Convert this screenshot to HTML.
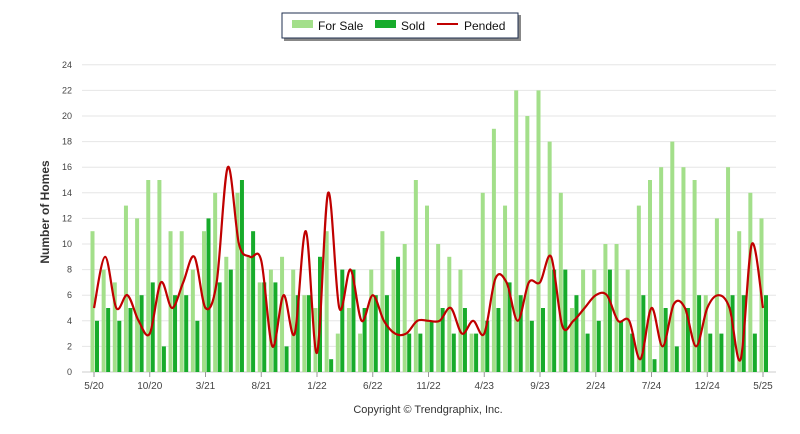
<!DOCTYPE html>
<html><head><meta charset="utf-8"><style>
body{margin:0;background:#fff;font-family:"Liberation Sans",sans-serif;}
svg{display:block}
</style></head><body>
<svg id="chart" width="800" height="434">
<rect x="284" y="15" width="237" height="26" fill="#888"/>
<rect x="282" y="13" width="236" height="25" fill="#fff" stroke="#1f2f4f" stroke-width="1"/>
<rect x="292" y="20" width="21" height="8" fill="#a3df8a"/>
<text x="318" y="30" font-size="12" fill="#111">For Sale</text>
<rect x="375" y="20" width="21" height="8" fill="#17ab2b"/>
<text x="401" y="30" font-size="12" fill="#111">Sold</text>
<line x1="437" y1="24" x2="458" y2="24" stroke="#c00000" stroke-width="2"/>
<text x="464" y="30" font-size="12" fill="#111">Pended</text>
<text transform="translate(49,212) rotate(-90)" text-anchor="middle" font-size="12" font-weight="bold" fill="#333">Number of Homes</text>
<text x="428" y="413" text-anchor="middle" font-size="11" fill="#333">Copyright © Trendgraphix, Inc.</text>
<g id="grid"></g><g id="bars"></g><g id="line"></g><g id="xt"></g>
</svg>
<script>
const xLabels=["5/20","10/20","3/21","8/21","1/22","6/22","11/22","4/23","9/23","2/24","7/24","12/24","5/25"];
const yTicks=[0,2,4,6,8,10,12,14,16,18,20,22,24];
const forSale=[11,8,7,13,12,15,15,11,11,8,11,14,9,14,9,7,8,9,8,6,5,11,3,5,3,8,11,8,10,15,13,10,9,8,3,14,19,13,22,20,22,18,14,5,8,8,10,10,8,13,15,16,18,16,15,6,12,16,11,14,12];
const sold=[4,5,4,5,6,7,2,6,6,4,12,7,8,15,11,7,7,2,6,6,9,1,8,8,5,6,6,9,3,3,4,5,3,5,3,4,5,7,6,4,5,8,8,6,3,4,8,4,3,6,1,5,2,5,6,3,3,6,6,3,6];
const pended=[5,9,5,6,4,3,7,5,7,9,5,7,16,10,9,8.7,2,6,3,11,1.5,14,5,8,4,6,4,3,3,4,4,4,5,3,4,3,7.3,7,4,7,7,9,3.6,4,5,6,6,4,4,1,5,2,5.3,5,2,5,6,5,1,10,5];
const NS="http://www.w3.org/2000/svg";
const svg=document.getElementById('chart');
const x0=94,dx=11.15,y0=372,yS=12.8;
const xS=i=>x0+i*dx, yV=v=>y0-v*yS;
function mk(tag,attrs,parent){const e=document.createElementNS(NS,tag);for(const k in attrs)e.setAttribute(k,attrs[k]);document.getElementById(parent).appendChild(e);return e;}
yTicks.forEach(t=>{
  const l=mk('line',{x1:82,x2:776,y1:yV(t),y2:yV(t),stroke:t===0?'#ccc':'#e6e6e6','stroke-width':1},'grid');
  
  
  const tx=mk('text',{x:72,y:yV(t)+3,'text-anchor':'end','font-size':9,fill:'#444'},'grid');
  tx.textContent=t;
  
  
});
xLabels.forEach((s,k)=>{
  const i=k*5;
  const l=mk('line',{x1:xS(i),x2:xS(i),y1:372,y2:377,stroke:'#999'},'xt');
  
  
  const tx=mk('text',{x:xS(i),y:389,'text-anchor':'middle','font-size':10,fill:'#444'},'xt');
  tx.textContent=s;
  
  
});
forSale.forEach((v,i)=>{
  const r=mk('rect',{x:xS(i)-3.5,y:yV(v),width:4,height:v*yS,fill:'#a3df8a'},'bars');
  
  
});
sold.forEach((v,i)=>{
  const r=mk('rect',{x:xS(i)+1,y:yV(v),width:4,height:v*yS,fill:'#17ab2b'},'bars');
  
  
});
const pts=pended.map((v,i)=>[xS(i),yV(v)]);
let d='M'+pts[0][0]+','+pts[0][1];
for(let i=0;i<pts.length-1;i++){
  const p0=pts[Math.max(i-1,0)],p1=pts[i],p2=pts[i+1],p3=pts[Math.min(i+2,pts.length-1)];
  const c1=[p1[0]+(p2[0]-p0[0])/6,p1[1]+(p2[1]-p0[1])/6];
  const c2=[p2[0]-(p3[0]-p1[0])/6,p2[1]-(p3[1]-p1[1])/6];
  d+=`C${c1[0]},${c1[1]} ${c2[0]},${c2[1]} ${p2[0]},${p2[1]}`;
}
const pl=mk('path',{d:d,fill:'none',stroke:'#c00000','stroke-width':2.2},'line');


</script>
</body></html>
